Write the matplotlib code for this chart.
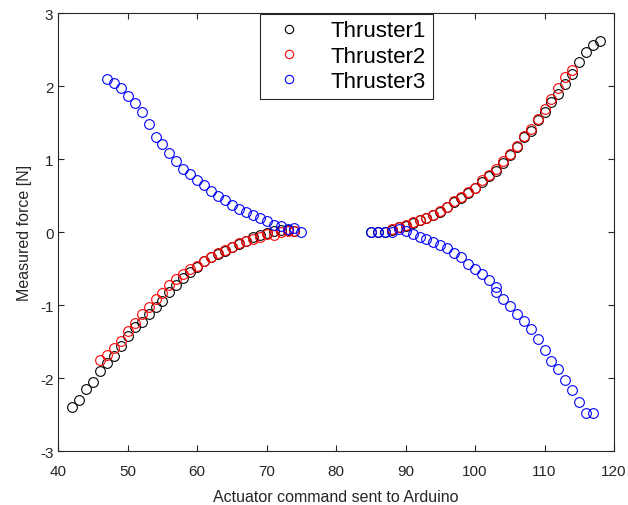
import matplotlib
matplotlib.use("Agg")
import matplotlib.pyplot as plt

plt.rcParams["font.family"] = ["Liberation Sans", "DejaVu Sans"]
plt.rcParams["axes.unicode_minus"] = False

# Thruster1 (black)
x1 = list(range(42, 75)) + list(range(85, 119))
y1 = [-2.39, -2.30, -2.15, -2.05, -1.90, -1.79, -1.69, -1.56, -1.42, -1.30,
      -1.23, -1.12, -1.03, -0.94, -0.82, -0.72, -0.63, -0.55, -0.48, -0.40,
      -0.34, -0.30, -0.26, -0.21, -0.16, -0.12, -0.07, -0.04, -0.01, 0.01,
      0.03, 0.03, 0.01,
      0.0, 0.0, 0.0, 0.03, 0.07, 0.09, 0.13, 0.16, 0.19, 0.23,
      0.28, 0.34, 0.41, 0.47, 0.53, 0.60, 0.68, 0.77, 0.84, 0.95,
      1.05, 1.16, 1.30, 1.39, 1.53, 1.65, 1.78, 1.89, 2.03, 2.17,
      2.33, 2.46, 2.56, 2.61]

# Thruster2 (red)
x2 = list(range(46, 75)) + list(range(88, 115))
y2 = [-1.75, -1.68, -1.58, -1.49, -1.36, -1.24, -1.12, -1.02, -0.92, -0.83,
      -0.73, -0.64, -0.57, -0.51, -0.47, -0.40, -0.34, -0.28, -0.24, -0.21,
      -0.15, -0.12, -0.09, -0.07, -0.03, -0.04, 0.0, 0.01, 0.01,
      0.04, 0.07, 0.10, 0.14, 0.16, 0.19, 0.23, 0.29, 0.35, 0.42,
      0.48, 0.55, 0.61, 0.71, 0.78, 0.86, 0.98, 1.07, 1.18, 1.32,
      1.41, 1.55, 1.68, 1.82, 1.97, 2.13, 2.22]

# Thruster3 (blue)
x3 = list(range(47, 76)) + list(range(85, 104)) + list(range(103, 118))
y3 = [2.10, 2.04, 1.98, 1.87, 1.77, 1.65, 1.48, 1.30, 1.20, 1.08,
      0.97, 0.87, 0.79, 0.71, 0.65, 0.57, 0.50, 0.44, 0.37, 0.32,
      0.27, 0.24, 0.19, 0.15, 0.10, 0.08, 0.04, 0.05, 0.0,
      0.0, 0.0, 0.0, 0.0, 0.04, 0.01, -0.02, -0.06, -0.09, -0.14,
      -0.17, -0.22, -0.28, -0.34, -0.43, -0.50, -0.57, -0.66, -0.75,
      -0.82, -0.92, -1.01, -1.12, -1.22, -1.33, -1.46, -1.61, -1.76,
      -1.88, -2.02, -2.16, -2.32, -2.48, -2.48]

fig = plt.figure(figsize=(6.28, 5.06), dpi=100)
ax = fig.add_axes([58.3 / 628, 1 - 452.3 / 506, (614 - 58.3) / 628, (452.3 - 14) / 506])

ms = 7
mew = 0.8
ax.plot(x1, y1, "o", mfc="none", mec="k", ms=ms, mew=mew, label="Thruster1")
ax.plot(x2, y2, "o", mfc="none", mec="r", ms=ms, mew=mew, label="Thruster2")
ax.plot(x3, y3, "o", mfc="none", mec="b", ms=ms, mew=mew, label="Thruster3")

ax.set_xlim(40, 120)
ax.set_ylim(-3, 3)
ax.set_xticks(range(40, 121, 10))
ax.set_yticks(range(-3, 4))
ax.tick_params(direction="in", top=True, right=True, labelsize=11,
               colors="#262626", length=4, width=0.8)
ax.tick_params(axis="x", pad=9)
for s in ax.spines.values():
    s.set_color("#262626")
    s.set_linewidth(0.8)

ax.set_xlabel("Actuator command sent to Arduino", fontsize=11.5, color="#262626", labelpad=8)
ax.set_ylabel("Measured force [N]", fontsize=11.5, color="#262626", labelpad=6)

leg = ax.legend(loc="upper center", bbox_to_anchor=(346.3 / 628, 1 - 14.7 / 506),
                bbox_transform=fig.transFigure, borderaxespad=0, fontsize=16,
                fancybox=False, framealpha=1, edgecolor="#262626",
                handletextpad=0.9, labelspacing=0.2, borderpad=0.3)
leg.get_frame().set_linewidth(0.8)
for h in leg.legend_handles:
    h.set_markersize(6)

fig.savefig("out.png", dpi=100)
